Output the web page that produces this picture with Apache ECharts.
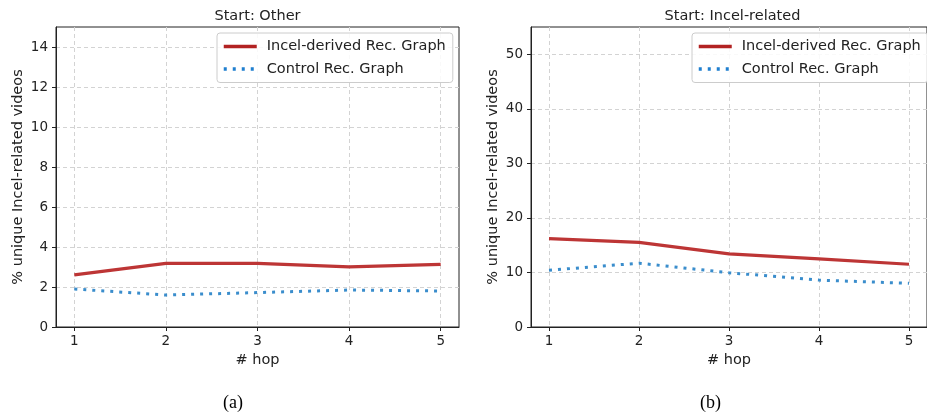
<!DOCTYPE html>
<html><head><meta charset="utf-8">
<script src="https://cdn.jsdelivr.net/npm/echarts@6/dist/echarts.min.js"></script>
<style>html,body{margin:0;padding:0;background:#fff}#c{width:927px;height:415px}</style>
</head><body><div id="c"></div>
<script>
const hops = [1, 2, 3, 4, 5];
const otherIncel = [2.61, 3.18, 3.18, 3.01, 3.13];
const otherControl = [1.90, 1.60, 1.72, 1.85, 1.80];
const incelIncel = [16.2, 15.5, 13.4, 12.5, 11.5];
const incelControl = [10.4, 11.7, 9.95, 8.6, 8.0];
const xTicks = [1, 2, 3, 4, 5];
const yTicksA = [0, 2, 4, 6, 8, 10, 12, 14];
const yTicksB = [0, 10, 20, 30, 40, 50];
const seriesNames = ['Incel-derived Rec. Graph', 'Control Rec. Graph'];
const panelTitles = ['Start: Other', 'Start: Incel-related'];
const captions = ['(a)', '(b)'];
const xName = '# hop';
const yName = '% unique Incel-related videos';

const FONT = 'DejaVu Sans';
const INK = '#222';
const RED = '#bd3535';
const BLUE = '#3a8dcc';
const gridLine = { show: true, lineStyle: { color: '#d3d3d3', type: [4, 3], width: 1 } };

function xAxis(gi) {
  return {
    type: 'value', gridIndex: gi, min: 0.8, max: 5.2,
    name: xName, nameLocation: 'middle', nameGap: 24,
    nameTextStyle: { fontSize: 14.5, color: INK, fontFamily: FONT },
    axisLine: { show: true, lineStyle: { color: INK, width: 1 } },
    axisTick: { show: true, customValues: xTicks, length: 4, lineStyle: { color: INK } },
    axisLabel: { customValues: xTicks, fontSize: 13.5, color: INK, margin: 7, fontFamily: FONT },
    splitLine: gridLine
  };
}
function yAxis(gi, max, ticks) {
  return {
    type: 'value', gridIndex: gi, min: 0, max: max,
    name: yName, nameLocation: 'middle', nameGap: 30,
    nameTextStyle: { fontSize: 14.5, color: INK, fontFamily: FONT },
    axisLine: { show: true, lineStyle: { color: INK, width: 1 } },
    axisTick: { show: true, customValues: ticks, length: 4, lineStyle: { color: INK } },
    axisLabel: { customValues: ticks, fontSize: 13.5, color: INK, margin: 8, fontFamily: FONT },
    splitLine: gridLine
  };
}
function pts(vals) { return hops.map((h, i) => [h, vals[i]]); }
function lineSeries(name, vals, gi, dotted) {
  return {
    type: 'line', name: name, xAxisIndex: gi, yAxisIndex: gi,
    data: pts(vals), symbol: 'none', showSymbol: false, animation: false,
    color: dotted ? BLUE : RED,
    lineStyle: dotted ? { width: 3, color: BLUE, type: [3, 6], cap: 'butt' } : { width: 3.2, color: RED },
    z: dotted ? 3 : 4
  };
}
function legend(left) {
  return {
    orient: 'vertical', left: left, top: 33,
    data: [
      { name: seriesNames[0], lineStyle: { color: '#b22222', width: 3.5 } },
      { name: seriesNames[1], lineStyle: { color: '#1f7fcf', width: 3.5 } }
    ],
    padding: [6, 7, 6, 5], itemGap: 7.5, itemWidth: 33, itemHeight: 14,
    itemStyle: { opacity: 0 },
    lineStyle: { width: 3.5 },
    borderColor: '#cccccc', borderWidth: 1, borderRadius: 3,
    backgroundColor: 'rgba(255,255,255,0.85)',
    textStyle: { fontSize: 14.5, color: INK, fontFamily: FONT, padding: [0, 0, 0, 5] },
    selectedMode: false
  };
}

const chart = echarts.init(document.getElementById('c'), null, { renderer: 'canvas' });
chart.setOption({
  animation: false,
  textStyle: { fontFamily: FONT },
  title: [
    { text: panelTitles[0], left: 257.5, top: 9, textAlign: 'center', padding: 0,
      textStyle: { fontSize: 14.5, fontWeight: 'normal', color: INK, fontFamily: FONT } },
    { text: panelTitles[1], left: 732.5, top: 9, textAlign: 'center', padding: 0,
      textStyle: { fontSize: 14.5, fontWeight: 'normal', color: INK, fontFamily: FONT } },
    { text: captions[0], left: 233, top: 394, textAlign: 'center', padding: 0,
      textStyle: { fontSize: 18, fontWeight: 'normal', color: '#000', fontFamily: 'Liberation Serif' } },
    { text: captions[1], left: 710.5, top: 394, textAlign: 'center', padding: 0,
      textStyle: { fontSize: 18, fontWeight: 'normal', color: '#000', fontFamily: 'Liberation Serif' } }
  ],
  grid: [
    { left: 56, top: 27, width: 403, height: 300, show: true, borderColor: INK, borderWidth: 1, backgroundColor: 'transparent', containLabel: false },
    { left: 531, top: 27, width: 403, height: 300, show: true, borderColor: INK, borderWidth: 1, backgroundColor: 'transparent', containLabel: false }
  ],
  legend: [legend(217), legend(692)],
  xAxis: [xAxis(0), xAxis(1)],
  yAxis: [yAxis(0, 15, yTicksA), yAxis(1, 55, yTicksB)],
  series: [
    lineSeries(seriesNames[0], otherIncel, 0, false),
    lineSeries(seriesNames[1], otherControl, 0, true),
    lineSeries(seriesNames[0], incelIncel, 1, false),
    lineSeries(seriesNames[1], incelControl, 1, true)
  ]
});
</script>
</body></html>
